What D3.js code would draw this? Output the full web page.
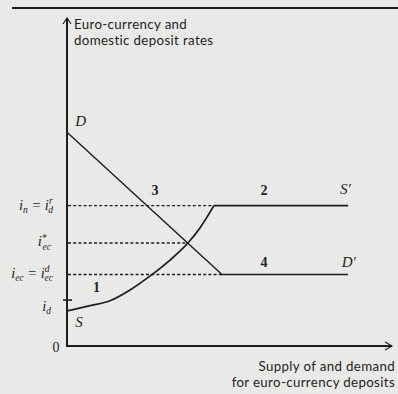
<!DOCTYPE html>
<html>
<head>
<meta charset="utf-8">
<script src="https://cdn.jsdelivr.net/npm/d3@7"></script>
<style>
  html, body { margin: 0; padding: 0; background: #e9e9e7; }
  svg { display: block; }
</style>
</head>
<body>
<svg id="chart" width="398" height="394"></svg>
<script>
// Rate levels (vertical units) used by the diagram
const rateLevels = {
  dIntercept: 6.52,   // where demand curve D meets the rate axis
  iN: 4.28,           // i_n = i_d^r
  iStar: 3.14,        // equilibrium euro-currency rate
  iEc: 2.18,          // i_ec = i_ec^d
  iD: 1.40,           // domestic deposit rate i_d
  sIntercept: 1.07    // where supply curve S starts
};

// Quantity positions (horizontal units)
const quantities = {
  dKink: 4.77,        // D turns horizontal
  sKink: 4.52,        // S turns horizontal
  equilibrium: 3.72,
  lineEnd: 8.65
};

// Supply curve S: rising section before it flattens out
const supplyX = [0, 0.71, 1.32, 1.94, 2.55, 3.17, 3.72, 4.09, 4.52];
const supplyY = [1.07, 1.23, 1.38, 1.71, 2.13, 2.62, 3.14, 3.60, 4.28];

const regionLabels = ["1", "2", "3", "4"];

const svg = d3.select("#chart");
const ink = "#1e1e1e";

const x = d3.scaleLinear().domain([0, 10]).range([67, 392]);
const y = d3.scaleLinear().domain([0, 10]).range([346, 18]);

// Rule across the top
svg.append("line")
  .attr("x1", 12).attr("x2", 398).attr("y1", 8).attr("y2", 8)
  .attr("stroke", ink).attr("stroke-width", 2);

// Axes with open arrowheads
const axes = svg.append("g").attr("stroke", ink).attr("fill", "none");
axes.append("line")
  .attr("x1", x(0)).attr("x2", x(0)).attr("y1", y(0)).attr("y2", y(10))
  .attr("stroke-width", 2);
axes.append("path")
  .attr("d", `M${x(0) - 4},${y(10) + 6}L${x(0)},${y(10)}L${x(0) + 4},${y(10) + 6}`)
  .attr("stroke-width", 1.2);
axes.append("line")
  .attr("x1", x(0) - 1).attr("x2", x(10)).attr("y1", y(0)).attr("y2", y(0))
  .attr("stroke-width", 2);
axes.append("path")
  .attr("d", `M${x(10) - 7},${y(0) - 4}L${x(10)},${y(0)}L${x(10) - 7},${y(0) + 4}`)
  .attr("stroke-width", 1.2);

// Tick for i_d on the rate axis
axes.append("line")
  .attr("x1", x(0) - 4).attr("x2", x(0) + 5)
  .attr("y1", y(rateLevels.iD)).attr("y2", y(rateLevels.iD))
  .attr("stroke-width", 1.6);

// Dashed guides from the rate axis
const dashes = [
  { r: rateLevels.iN, to: quantities.sKink },
  { r: rateLevels.iStar, to: quantities.equilibrium },
  { r: rateLevels.iEc, to: quantities.dKink }
];
svg.append("g").selectAll("line").data(dashes).join("line")
  .attr("x1", x(0) + 1).attr("x2", d => x(d.to))
  .attr("y1", d => y(d.r)).attr("y2", d => y(d.r))
  .attr("stroke", ink).attr("stroke-width", 1.4)
  .attr("stroke-dasharray", "3,2.2");

// Demand curve D -> D'
const line = d3.line().x(d => x(d[0])).y(d => y(d[1]));
svg.append("path")
  .datum([[0, rateLevels.dIntercept], [quantities.dKink, rateLevels.iEc], [quantities.lineEnd, rateLevels.iEc]])
  .attr("d", line)
  .attr("fill", "none").attr("stroke", ink).attr("stroke-width", 1.4);

// Supply curve S -> S'
const supplyPts = supplyX.map((v, i) => [v, supplyY[i]]);
svg.append("path")
  .datum(supplyPts)
  .attr("d", d3.line().x(d => x(d[0])).y(d => y(d[1])).curve(d3.curveMonotoneX))
  .attr("fill", "none").attr("stroke", ink).attr("stroke-width", 1.8);
svg.append("path")
  .datum([[quantities.sKink, rateLevels.iN], [quantities.lineEnd, rateLevels.iN]])
  .attr("d", line)
  .attr("fill", "none").attr("stroke", ink).attr("stroke-width", 1.6);

// Axis titles, one text per line
const sans = "Lato, 'Open Sans', sans-serif";
const titleLines = [
  { t: "Euro-currency and", x: 74, y: 29, anchor: "start" },
  { t: "domestic deposit rates", x: 74, y: 45, anchor: "start" },
  { t: "Supply of and demand", x: 395, y: 371, anchor: "end" },
  { t: "for euro-currency deposits", x: 395, y: 387, anchor: "end" }
];
svg.append("g").selectAll("text").data(titleLines).join("text")
  .attr("x", d => d.x).attr("y", d => d.y)
  .attr("text-anchor", d => d.anchor)
  .attr("font-family", sans).attr("font-size", 13.3)
  .attr("letter-spacing", 0.35).attr("fill", ink)
  .text(d => d.t);

svg.append("text").attr("x", 56).attr("y", y(0) + 6)
  .attr("text-anchor", "middle").attr("font-family", "'Liberation Serif', serif")
  .attr("font-size", 14).attr("fill", ink).text("0");

// Rate labels on the left, italic with sub/superscripts
const serif = "'Liberation Serif', 'Times New Roman', serif";
function rateLabel(xRight, yy, parts) {
  const t = svg.append("text")
    .attr("x", xRight).attr("y", yy)
    .attr("text-anchor", "end").attr("font-family", serif)
    .attr("font-style", "italic").attr("font-size", 14.5).attr("fill", ink);
  parts.forEach(p => {
    const s = t.append("tspan").text(p.t);
    if (p.dy) s.attr("dy", p.dy);
    if (p.size) s.attr("font-size", p.size);
    if (p.dx) s.attr("dx", p.dx);
  });
}
rateLabel(53, y(rateLevels.iN) + 4, [
  { t: "i" }, { t: "n", dy: 3, size: 9.5 }, { t: " = i", dy: -3 },
  { t: "r", dy: -6, size: 9.5 }, { t: "d", dy: 9, dx: -4, size: 9.5 }
]);
rateLabel(51, y(rateLevels.iStar) + 3, [
  { t: "i" }, { t: "*", dy: -5, size: 9.5 }, { t: "ec", dy: 9, dx: -4, size: 9.5 }
]);
rateLabel(53, y(rateLevels.iEc) + 4, [
  { t: "i" }, { t: "ec", dy: 3, size: 9.5 }, { t: " = i", dy: -3 },
  { t: "d", dy: -6, size: 9.5 }, { t: "ec", dy: 9, dx: -5, size: 9.5 }
]);
rateLabel(51, y(rateLevels.iD) + 11, [
  { t: "i" }, { t: "d", dy: 3, size: 9.5 }
]);

// Curve names
const curveNames = [
  { t: "D", q: 0.25, r: rateLevels.dIntercept + 0.2 },
  { t: "S", q: 0.25, r: rateLevels.sIntercept - 0.5 },
  { t: "S\u2032", q: quantities.lineEnd - 0.25, r: rateLevels.iN + 0.35 },
  { t: "D\u2032", q: quantities.lineEnd - 0.2, r: rateLevels.iEc + 0.22 }
];
svg.append("g").selectAll("text").data(curveNames).join("text")
  .attr("x", d => x(d.q)).attr("y", d => y(d.r))
  .attr("font-family", serif).attr("font-style", "italic")
  .attr("font-size", 15).attr("fill", ink).text(d => d.t);

// Region numbers
const regionPos = [[0.8, 1.65], [5.95, 4.6], [2.6, 4.6], [5.95, 2.4]];
svg.append("g").selectAll("text").data(regionLabels).join("text")
  .attr("x", (d, i) => x(regionPos[i][0])).attr("y", (d, i) => y(regionPos[i][1]))
  .attr("font-family", serif).attr("font-weight", "bold")
  .attr("font-size", 14).attr("fill", ink).text(d => d);
</script>
</body>
</html>
